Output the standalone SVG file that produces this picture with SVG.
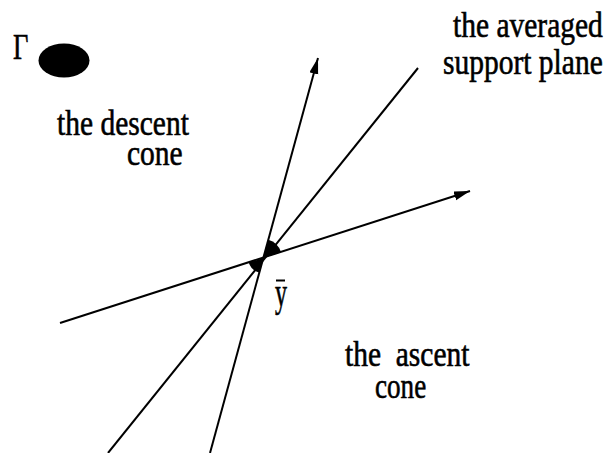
<svg xmlns="http://www.w3.org/2000/svg" width="612" height="453" viewBox="0 0 612 453">
<style>
.t{font-family:"Liberation Serif","Times New Roman",serif;font-size:29.5px;fill:#000;stroke:#000;stroke-width:0.5}
.ln{stroke:#000;stroke-width:2;fill:none}
</style>
<defs>
<marker id="arr" markerUnits="userSpaceOnUse" markerWidth="18" markerHeight="10" refX="16" refY="4.5" orient="auto">
<path d="M0,0 L16,4.5 L0,9 Z" fill="#000"/>
</marker>
</defs>
<rect width="612" height="453" fill="#fff"/>
<g id="gamma">
<g transform="translate(13,59) scale(0.9,1.2)"><text class="t" x="0" y="0">Γ</text></g>
<ellipse cx="64" cy="60.5" rx="25.5" ry="17" fill="#000"/>
</g>
<g id="connectors">
<line class="ln" x1="60" y1="323" x2="470" y2="191" marker-end="url(#arr)"/>
<line class="ln" x1="210" y1="453" x2="318" y2="58" marker-end="url(#arr)"/>
<line class="ln" x1="108" y1="453" x2="418" y2="68"/>
<path d="M263,258 L268.3,239.7 A19,19 0 0 1 281.1,252.2 Z" fill="#000"/>
<path d="M263,258 L248.7,262.6 A15,15 0 0 0 259,272.5 Z" fill="#000"/>
</g>
<g id="support-plane">
<g transform="translate(453,37) scale(1,1.2)"><text class="t" x="0" y="0">the averaged</text></g>
<g transform="translate(443,74) scale(1,1.2)"><text class="t" x="0" y="0">support plane</text></g>
</g>
<g id="descent-cone">
<g transform="translate(57,135) scale(1,1.2)"><text class="t" x="0" y="0">the descent</text></g>
<g transform="translate(127,165) scale(1,1.2)"><text class="t" x="0" y="0">cone</text></g>
</g>
<g id="ascent-cone">
<g transform="translate(345,366) scale(1,1.2)"><text class="t" x="0" y="0" style="white-space:pre">the  ascent</text></g>
<g transform="translate(375,398) scale(0.92,1.2)"><text class="t" x="0" y="0">cone</text></g>
</g>
<g id="ybar">
<g transform="translate(275,306) scale(0.75,1.25)"><text class="t" x="0" y="0" style="font-size:32px">y</text></g>
<line x1="276" y1="280.5" x2="285" y2="280.5" stroke="#000" stroke-width="2"/>
</g>
</svg>
